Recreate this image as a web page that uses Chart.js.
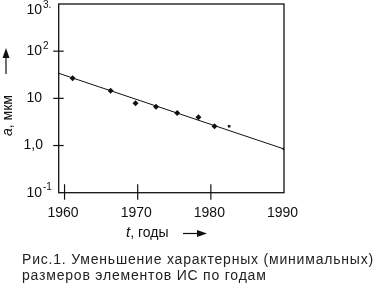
<!DOCTYPE html>
<html>
<head>
<meta charset="utf-8">
<script src="https://cdn.jsdelivr.net/npm/chart.js@4/dist/chart.umd.min.js"></script>
<style>
  html, body { margin: 0; padding: 0; background: #fff; }
</style>
</head>
<body>
<canvas id="chart" width="385" height="290"></canvas>
<script>
// данные (размер элементов ИС, мкм)
const years = [1961.1, 1966.3, 1969.7, 1972.5, 1975.4, 1978.3, 1980.5];
const sizes = [26.6, 14.5, 7.85, 6.65, 4.9, 3.97, 2.56];
const extraYears = [1982.5, 1990];
const extraSizes = [2.56, 0.845];
const trendYears = [1959.2, 1990];
const trendSizes = [34, 0.845];

const xTicks = [1960, 1970, 1980, 1990];
const yTicks = [0.1, 1, 10, 100, 1000];
const yTickBase = ["10", "1,0", "10", "10", "10"];
const yTickExp = ["-1", "", "", "2", "3."];

const caption = [
  "Рис.1. Уменьшение характерных (минимальных)",
  "размеров элементов ИС по годам"
];

const FONT = "'Liberation Sans', Arial, sans-serif";
const INK = "#111";

function arrowHead(ctx, x, y, dir) {
  // dir: "up" or "right"
  ctx.beginPath();
  if (dir === "up") {
    ctx.moveTo(x, y);
    ctx.lineTo(x - 3.5, y + 10);
    ctx.lineTo(x + 3.5, y + 10);
  } else {
    ctx.moveTo(x, y);
    ctx.lineTo(x - 10, y - 3.5);
    ctx.lineTo(x - 10, y + 3.5);
  }
  ctx.closePath();
  ctx.fill();
}

const axesPlugin = {
  id: "axesPlugin",
  afterDraw(chart) {
    const ctx = chart.ctx;
    const a = chart.chartArea;
    const xs = chart.scales.x;
    const ys = chart.scales.y;
    ctx.save();
    ctx.strokeStyle = INK;
    ctx.fillStyle = INK;
    ctx.lineWidth = 1.3;
    ctx.strokeRect(a.left, a.top, a.right - a.left, a.bottom - a.top);

    // деления по x
    ctx.lineWidth = 1.2;
    xTicks.forEach(v => {
      const px = xs.getPixelForValue(v);
      if (v === 1990) return;
      ctx.beginPath();
      ctx.moveTo(px, a.bottom - 8.5);
      ctx.lineTo(px, a.bottom + 7);
      ctx.stroke();
    });
    // деления по y
    yTicks.forEach(v => {
      if (v === 0.1 || v === 1000) return;
      const py = ys.getPixelForValue(v);
      ctx.beginPath();
      ctx.moveTo(a.left - 5.5, py);
      ctx.lineTo(a.left + 5, py);
      ctx.stroke();
    });

    // подписи x
    ctx.font = "14px " + FONT;
    ctx.textAlign = "center";
    ctx.textBaseline = "alphabetic";
    xTicks.forEach(v => {
      const px = xs.getPixelForValue(v);
      ctx.fillText(String(v), px - 1.5, 217);
    });

    // подписи y
    yTicks.forEach((v, i) => {
      let py = ys.getPixelForValue(v);
      if (py < 10) py = 10;
      ctx.font = "14px " + FONT;
      ctx.textAlign = "right";
      ctx.textBaseline = "middle";
      const right = yTickBase[i] === "1,0" ? 43 : 42;
      ctx.fillText(yTickBase[i], right, py);
      if (yTickExp[i]) {
        ctx.font = "10px " + FONT;
        ctx.textAlign = "left";
        ctx.fillText(yTickExp[i], 43, py - 5);
      }
    });

    // заголовок оси x
    ctx.textAlign = "left";
    ctx.textBaseline = "alphabetic";
    ctx.font = "italic 15px " + FONT;
    ctx.fillText("t", 126, 237);
    let w = ctx.measureText("t").width;
    ctx.font = "14px " + FONT;
    ctx.fillText(", годы", 126 + w, 237);
    ctx.lineWidth = 1.2;
    ctx.beginPath();
    ctx.moveTo(183, 233.5);
    ctx.lineTo(200, 233.5);
    ctx.stroke();
    arrowHead(ctx, 207, 233.5, "right");

    // заголовок оси y
    ctx.save();
    ctx.translate(12, 136);
    ctx.rotate(-Math.PI / 2);
    ctx.font = "italic 14px " + FONT;
    ctx.fillText("a", 0, 0);
    w = ctx.measureText("a").width;
    ctx.font = "14px " + FONT;
    ctx.fillText(", мкм", w, 0);
    ctx.restore();
    ctx.beginPath();
    ctx.moveTo(6, 74);
    ctx.lineTo(6, 56);
    ctx.stroke();
    arrowHead(ctx, 6, 48, "up");

    // подпись рисунка
    ctx.fillStyle = "#222";
    ctx.font = "14px " + FONT;
    ctx.letterSpacing = "0px";
    const natural = ctx.measureText(caption[0]).width;
    const spacing = (351 - natural) / (caption[0].length - 1);
    ctx.letterSpacing = spacing.toFixed(2) + "px";
    ctx.fillText(caption[0], 22, 264);
    ctx.fillText(caption[1], 22, 280);
    ctx.restore();
  }
};

new Chart(document.getElementById("chart"), {
  type: "scatter",
  data: {
    datasets: [
      {
        data: trendYears.map((x, i) => ({ x: x, y: trendSizes[i] })),
        showLine: true,
        borderColor: INK,
        borderWidth: 1,
        pointRadius: 0
      },
      {
        data: years.map((x, i) => ({ x: x, y: sizes[i] })),
        pointStyle: "rectRot",
        pointRadius: 3,
        backgroundColor: INK,
        borderColor: INK,
        borderWidth: 0
      },
      {
        data: extraYears.map((x, i) => ({ x: x, y: extraSizes[i] })),
        pointStyle: "rect",
        pointRadius: 1.8,
        backgroundColor: INK,
        borderColor: INK,
        borderWidth: 0
      }
    ]
  },
  options: {
    responsive: false,
    animation: false,
    layout: { padding: { left: 58.7, right: 101, top: 4, bottom: 97.3 } },
    scales: {
      x: { type: "linear", display: false, min: 1959.2, max: 1990 },
      y: { type: "logarithmic", display: false, min: 0.1, max: 1000 }
    },
    plugins: {
      legend: { display: false },
      tooltip: { enabled: false }
    }
  },
  plugins: [axesPlugin]
});
</script>
</body>
</html>
